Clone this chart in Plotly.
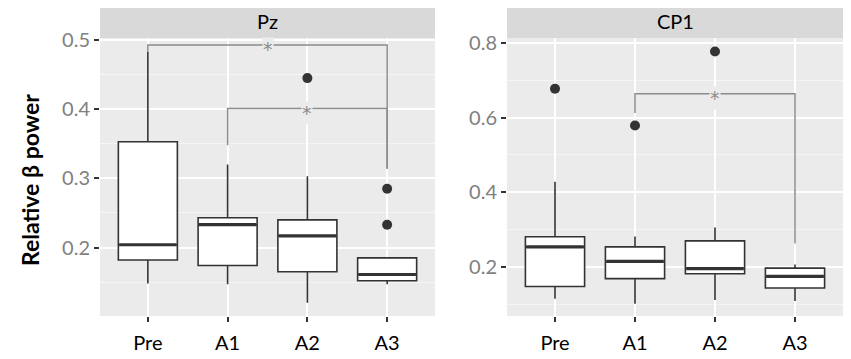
import plotly.graph_objects as go

# ---------------- data ----------------
groups = ["Pre", "A1", "A2", "A3"]
panels = ["Pz", "CP1"]

# Pz
pz_q1 = [0.182, 0.174, 0.165, 0.152]
pz_med = [0.204, 0.233, 0.217, 0.161]
pz_q3 = [0.353, 0.243, 0.240, 0.185]
pz_lo = [0.148, 0.147, 0.120, 0.147]
pz_hi = [0.483, 0.320, 0.303, 0.185]
pz_out_x = ["A2", "A3", "A3"]
pz_out_y = [0.445, 0.285, 0.233]

# CP1
cp_q1 = [0.148, 0.169, 0.182, 0.144]
cp_med = [0.254, 0.215, 0.196, 0.175]
cp_q3 = [0.281, 0.254, 0.270, 0.197]
cp_lo = [0.115, 0.102, 0.112, 0.109]
cp_hi = [0.428, 0.282, 0.306, 0.207]
cp_out_x = ["Pre", "A1", "A2"]
cp_out_y = [0.677, 0.579, 0.777]

# significance brackets
br_panel = ["Pz", "Pz", "CP1"]
br_start = ["Pre", "A1", "A1"]
br_end = ["A3", "A3", "A3"]
br_y = [0.493, 0.401, 0.664]
br_tip_l = [0.483, 0.348, 0.612]
br_tip_r = [0.314, 0.314, 0.263]
br_label = ["*", "*", "*"]

y_ticks_pz = [0.2, 0.3, 0.4, 0.5]
y_ticks_cp = [0.2, 0.4, 0.6, 0.8]

# ---------------- styling ----------------
W, H = 851, 359
OFF = 8  # page body margin
FONT = "Lato"
BOX_LINE = "#333333"
PANEL_BG = "#EBEBEB"
STRIP_BG = "#D9D9D9"
BR_COLOR = "#8C8C8C"


def px_x(p):
    return (p - OFF) / W


def px_y(p):
    return (H - (p - OFF)) / H


fig = go.Figure()

panel_data = {
    "Pz": (pz_q1, pz_med, pz_q3, pz_lo, pz_hi, pz_out_x, pz_out_y, "x", "y"),
    "CP1": (cp_q1, cp_med, cp_q3, cp_lo, cp_hi, cp_out_x, cp_out_y, "x2", "y2"),
}

for p in panels:
    q1, med, q3, lo, hi, ox, oy, xa, ya = panel_data[p]
    fig.add_trace(go.Box(
        x=groups, q1=q1, median=med, q3=q3, lowerfence=lo, upperfence=hi,
        xaxis=xa, yaxis=ya, width=0.74, fillcolor="white",
        line=dict(color=BOX_LINE, width=1.6), boxpoints=False,
        whiskerwidth=0, showlegend=False, hoverinfo="skip"))
    # bold median
    fig.add_trace(go.Scatter(
        x=groups, y=med, xaxis=xa, yaxis=ya, mode="markers",
        marker=dict(symbol="line-ew", size=41,
                    line=dict(color=BOX_LINE, width=3.2)),
        showlegend=False, hoverinfo="skip"))
    # outliers
    fig.add_trace(go.Scatter(
        x=ox, y=oy, xaxis=xa, yaxis=ya, mode="markers",
        marker=dict(color=BOX_LINE, size=10),
        showlegend=False, hoverinfo="skip"))

for p, s, e, y, tl, tr, lab in zip(br_panel, br_start, br_end, br_y,
                                   br_tip_l, br_tip_r, br_label):
    xa, ya = ("x", "y") if p == "Pz" else ("x2", "y2")
    fig.add_trace(go.Scatter(
        x=[s, s, e, e], y=[tl, y, y, tr], xaxis=xa, yaxis=ya,
        mode="lines", line=dict(color=BR_COLOR, width=1.5),
        showlegend=False, hoverinfo="skip"))
    xm = (groups.index(s) + groups.index(e)) / 2
    fig.add_annotation(
        x=xm, y=y, xref=xa, yref=ya, text=lab, showarrow=False,
        xanchor="center", yanchor="middle",
        font=dict(family="DejaVu Sans", size=19, color=BR_COLOR),
        bgcolor=PANEL_BG, borderpad=0, yshift=-4)

x1 = [px_x(100), px_x(435)]
x2 = [px_x(507), px_x(843)]
yd = [px_y(316), px_y(38)]
strip_top = px_y(5)

common_x = dict(
    type="category", categoryorder="array", categoryarray=groups,
    range=[-0.6, 3.6], showgrid=True, gridcolor="white", gridwidth=1.6,
    ticks="outside", ticklen=5, tickwidth=1.5, tickcolor="#333333",
    ticklabelstandoff=4,
    tickfont=dict(family=FONT, size=20, color="black"),
    zeroline=False, showline=False, fixedrange=True, automargin=False)

common_y = dict(
    showgrid=True, gridcolor="white", gridwidth=1.6,
    ticks="outside", ticklen=5, tickwidth=1.5, tickcolor="#333333",
    tickfont=dict(family=FONT, size=20, color="#808080"),
    zeroline=False, showline=False, fixedrange=True, automargin=False,
    autorange=False)

fig.update_layout(
    width=W, height=H, margin=dict(l=0, r=0, t=0, b=0, autoexpand=False),
    paper_bgcolor="white", plot_bgcolor=PANEL_BG,
    xaxis=dict(domain=x1, anchor="y", **common_x),
    xaxis2=dict(domain=x2, anchor="y2", **common_x),
    yaxis=dict(domain=yd, anchor="x", range=[0.101, 0.503],
               tickvals=y_ticks_pz, ticktext=[f"{v:.1f}" for v in y_ticks_pz],
               minor=dict(dtick=0.05, tick0=0, showgrid=True,
                          gridcolor="#F5F5F5", gridwidth=0.8, ticks=""),
               **common_y),
    yaxis2=dict(domain=yd, anchor="x2", range=[0.069, 0.813],
                tickvals=y_ticks_cp, ticktext=[f"{v:.1f}" for v in y_ticks_cp],
                minor=dict(dtick=0.1, tick0=0, showgrid=True,
                           gridcolor="#F5F5F5", gridwidth=0.8, ticks=""),
                **common_y),
)

for dom, lab in zip([x1, x2], panels):
    fig.add_shape(type="rect", xref="paper", yref="paper",
                  x0=dom[0], x1=dom[1], y0=yd[1], y1=strip_top,
                  fillcolor=STRIP_BG, line=dict(width=0))
    fig.add_annotation(x=(dom[0] + dom[1]) / 2, y=(yd[1] + strip_top) / 2,
                       xref="paper", yref="paper", text=lab, showarrow=False,
                       xanchor="center", yanchor="middle",
                       font=dict(family=FONT, size=20, color="black"))

fig.add_annotation(x=px_x(30), y=px_y(180), xref="paper", yref="paper",
                   text="<b>Relative β power</b>", textangle=-90,
                   showarrow=False, xanchor="center", yanchor="middle",
                   font=dict(family=FONT, size=23, color="black"))

fig.write_html("out.html")
